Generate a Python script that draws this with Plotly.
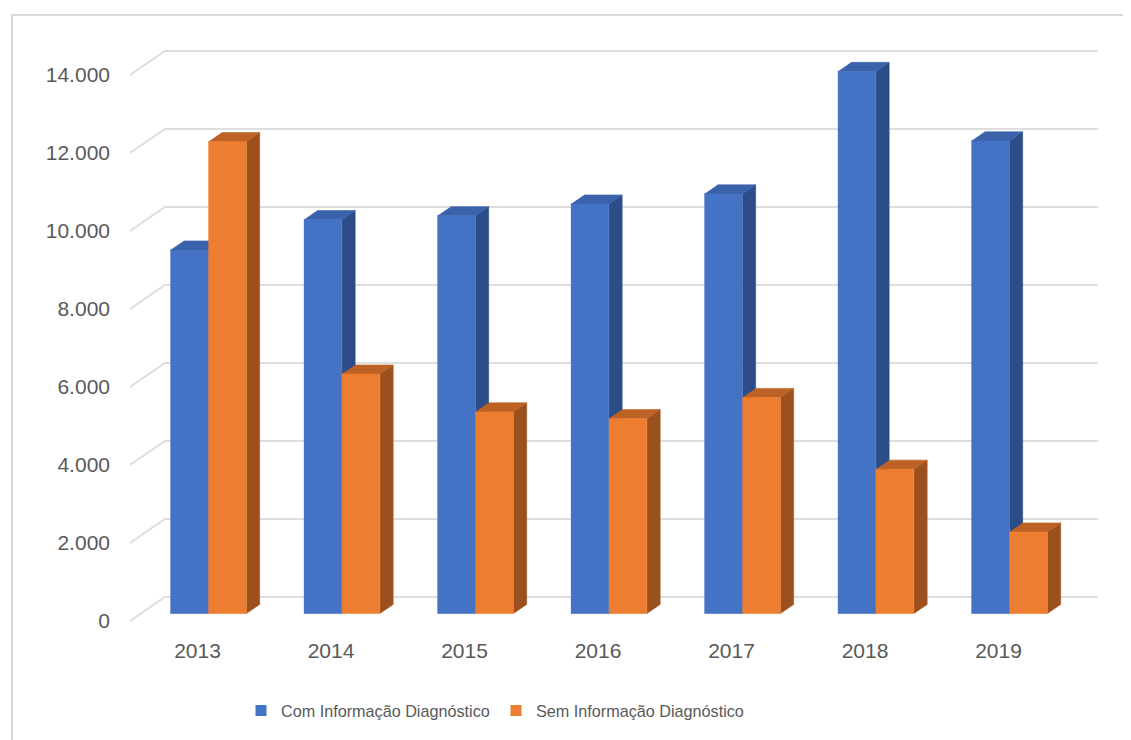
import plotly.graph_objects as go

# ---------------- data ----------------
years = ["2013", "2014", "2015", "2016", "2017", "2018", "2019"]
com_info = [9320, 10100, 10200, 10500, 10760, 13900, 12120]
sem_info = [12100, 6140, 5170, 5000, 5540, 3700, 2090]
series_names = ["Com Informação Diagnóstico", "Sem Informação Diagnóstico"]
y_tick_values = [0, 2000, 4000, 6000, 8000, 10000, 12000, 14000]
y_tick_labels = ["0", "2.000", "4.000", "6.000", "8.000", "10.000", "12.000", "14.000"]

# ---------------- styling / geometry ----------------
W, H = 1131, 740
OFF = 8                      # page body margin of the rendered html


def px(p):
    """reference-image pixel -> figure pixel"""
    return p - OFF


PLOT_L, PLOT_R, PLOT_T, PLOT_B = px(130), px(1100), px(30), px(640)
M_L, M_R, M_T, M_B = PLOT_L, W - PLOT_R, PLOT_T, H - PLOT_B
PLOT_W, PLOT_H = PLOT_R - PLOT_L, PLOT_B - PLOT_T

PX_PER_CAT = 133.5          # pixels between categories
PX_PER_VAL = 0.039          # pixels per value unit
CAT0_PX = px(197.5)         # front-plane pixel of first category
ZERO_PX = px(621)           # front-plane pixel of value 0

x_range = [(PLOT_L - CAT0_PX) / PX_PER_CAT, (PLOT_R - CAT0_PX) / PX_PER_CAT]
y_range = [-(PLOT_B - ZERO_PX) / PX_PER_VAL, (ZERO_PX - PLOT_T) / PX_PER_VAL]

# depth vector (front plane -> back wall) in axis units
DX = 35 / PX_PER_CAT
DY = 24 / PX_PER_VAL
FRONT_D, BACK_D = 0.31, 0.69
BAR_W = 38 / PX_PER_CAT
WALL_RIGHT = (px(1098) - CAT0_PX) / PX_PER_CAT

BLUE = dict(front="#4472C4", side="#2C4D87", top="#3A63AC")
ORANGE = dict(front="#ED7D31", side="#9C501E", top="#BD6224")
GRID = "#dedede"
TEXT = "#595959"

fig = go.Figure()

# gridlines on the back wall with slanted left edge
gx, gy = [], []
for v in y_tick_values:
    gx += [x_range[0], x_range[0] + DX, WALL_RIGHT, None]
    gy += [v, v + DY, v + DY, None]
fig.add_trace(go.Scatter(x=gx, y=gy, mode="lines", line=dict(color=GRID, width=2),
                         hoverinfo="skip", showlegend=False))


def faces(values, offset):
    fx, fy = FRONT_D * DX, FRONT_D * DY
    bx, by = BACK_D * DX, BACK_D * DY
    side_x, side_y, top_x, top_y, fr_x, fr_y = [], [], [], [], [], []
    for i, v in enumerate(values):
        x0 = i + offset
        x1 = x0 + BAR_W
        side_x += [x1 + fx, x1 + bx, x1 + bx, x1 + fx, None]
        side_y += [fy, by, v + by, v + fy, None]
        top_x += [x0 + fx, x1 + fx, x1 + bx, x0 + bx, None]
        top_y += [v + fy, v + fy, v + by, v + by, None]
        fr_x += [x0 + fx, x1 + fx, x1 + fx, x0 + fx, None]
        fr_y += [fy, fy, v + fy, v + fy, None]
    return (side_x, side_y), (top_x, top_y), (fr_x, fr_y)


for values, offset, col in [(com_info, -BAR_W, BLUE), (sem_info, 0.0, ORANGE)]:
    side, top, front = faces(values, offset)
    for (xs, ys), c in [(side, col["side"]), (top, col["top"]), (front, col["front"])]:
        fig.add_trace(go.Scatter(x=xs, y=ys, mode="lines", fill="toself",
                                 fillcolor=c, line=dict(color=c, width=0.6),
                                 hoverinfo="skip", showlegend=False))

# legend entries
for name, col in zip(series_names, [BLUE, ORANGE]):
    fig.add_trace(go.Scatter(x=[None], y=[None], mode="markers", name=name,
                             marker=dict(symbol="square", size=11, color=col["front"])))

# outer chart border
fig.add_shape(type="rect", xref="paper", yref="paper",
              x0=(px(12) - PLOT_L) / PLOT_W, x1=1.1,
              y0=-0.3, y1=(PLOT_B - px(15)) / PLOT_H,
              line=dict(color="#d9d9d9", width=2), fillcolor="rgba(0,0,0,0)", layer="below")

fig.update_layout(
    width=W, height=H,
    margin=dict(l=M_L, r=M_R, t=M_T, b=M_B),
    paper_bgcolor="white", plot_bgcolor="white",
    font=dict(family="Liberation Sans", size=21, color=TEXT),
    xaxis=dict(range=x_range, tickvals=list(range(len(years))), ticktext=years,
               showgrid=False, zeroline=False, showline=False, ticks="",
               ticklabelstandoff=-4, tickfont=dict(size=21, color=TEXT), fixedrange=True),
    yaxis=dict(range=y_range, tickvals=y_tick_values, ticktext=y_tick_labels,
               showgrid=False, zeroline=False, showline=False, ticks="",
               ticklabelstandoff=19, tickfont=dict(size=21, color=TEXT), fixedrange=True),
    legend=dict(orientation="h", x=(px(241) - PLOT_L) / PLOT_W, xanchor="left",
                y=(PLOT_B - px(711)) / PLOT_H, yanchor="middle",
                font=dict(family="Liberation Sans", size=16.2, color=TEXT),
                entrywidth=210, entrywidthmode="pixels", bgcolor="rgba(0,0,0,0)"),
)

fig.write_html("out.html")
